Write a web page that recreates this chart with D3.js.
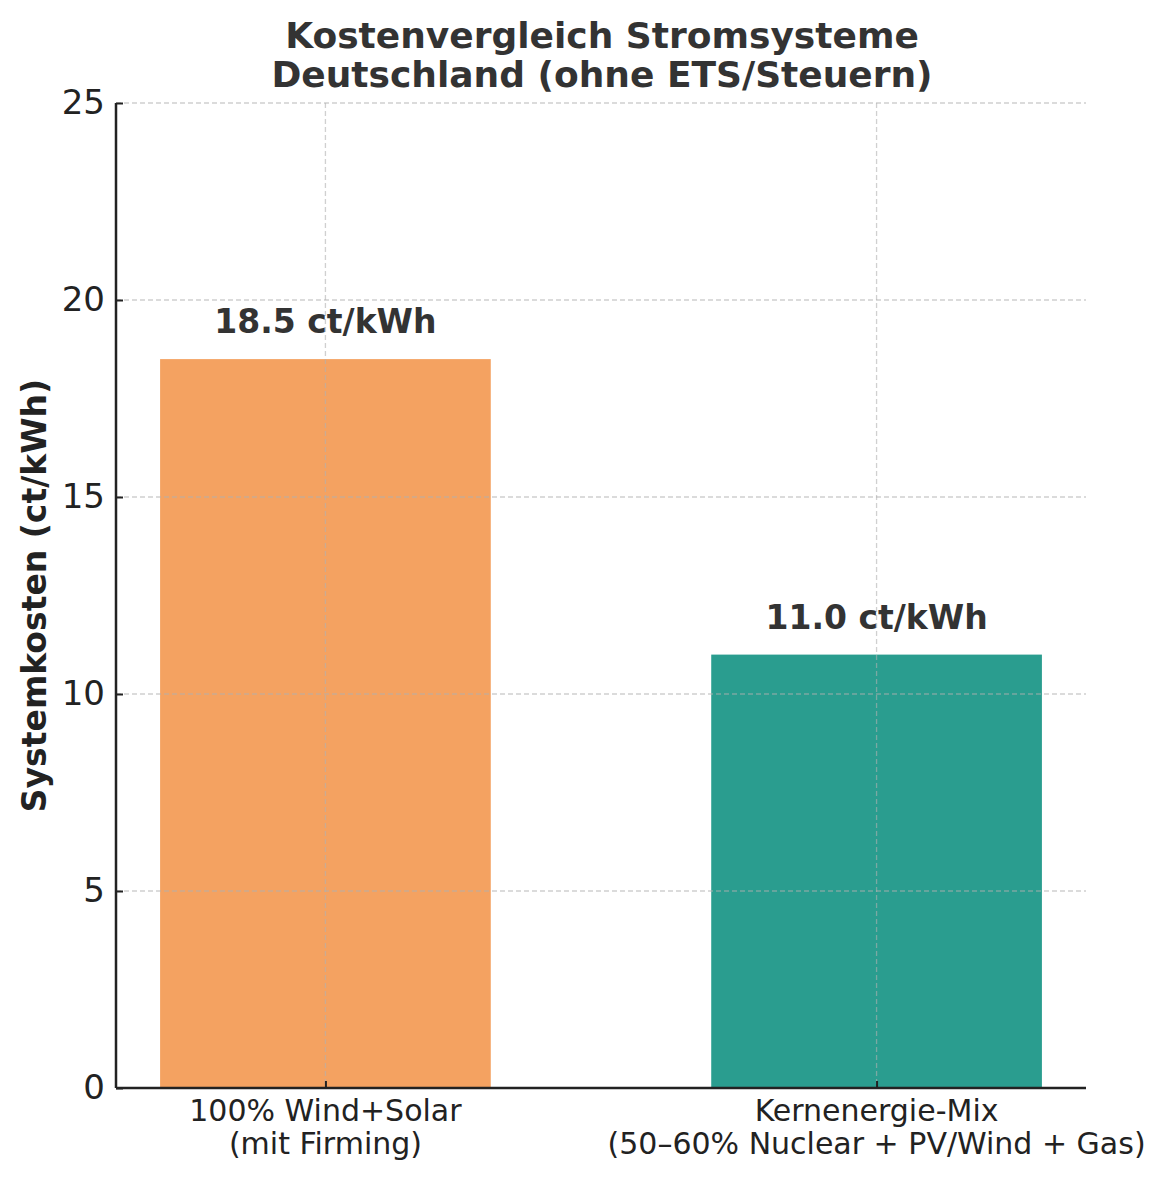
<!DOCTYPE html>
<html><head><meta charset="utf-8">
<script src="https://cdn.jsdelivr.net/npm/d3@7"></script>
<style>body{margin:0;background:#fff}svg{display:block}</style>
</head><body>
<script>
const categories = [["100% Wind+Solar","(mit Firming)"],["Kernenergie-Mix","(50–60% Nuclear + PV/Wind + Gas)"]];
const values = [18.5, 11.0];
const valueLabels = ["18.5 ct/kWh","11.0 ct/kWh"];
const colors = ["#F4A261","#2A9D8F"];
const yTicks = [0,5,10,15,20,25];
const titleLines = ["Kostenvergleich Stromsysteme","Deutschland (ohne ETS/Steuern)"];
const yLabel = "Systemkosten (ct/kWh)";

const W=1171,H=1180;
const m={l:116,r:1086,t:103,b:1088};
const svg=d3.select("body").append("svg").attr("width",W).attr("height",H);
const font="DejaVu Sans";
const x=d3.scaleLinear().domain([-0.38,1.38]).range([m.l,m.r]);
const y=d3.scaleLinear().domain([0,25]).range([m.b,m.t]);
const bw=x(0.6)-x(0);

// bars
svg.selectAll("rect.bar").data(values).join("rect")
  .attr("x",(d,i)=>x(i)-bw/2).attr("y",d=>y(d))
  .attr("width",bw).attr("height",d=>y(0)-y(d)).attr("fill",(d,i)=>colors[i]);

// grid (above bars)
const g=svg.append("g");
g.selectAll("line.gy").data(yTicks.filter(t=>t>0)).join("line")
  .attr("x1",m.l).attr("x2",m.r).attr("y1",d=>y(d)).attr("y2",d=>y(d))
  .attr("stroke","#b0b0b0").attr("stroke-opacity",0.6).attr("stroke-width",1.3).attr("stroke-dasharray","5,3");
g.selectAll("line.gx").data([0,1]).join("line")
  .attr("x1",d=>x(d)).attr("x2",d=>x(d)).attr("y1",m.t).attr("y2",m.b)
  .attr("stroke","#b0b0b0").attr("stroke-opacity",0.6).attr("stroke-width",1.3).attr("stroke-dasharray","5,3");

// axes (ticks pointing inward)
const yAxis=svg.append("g").attr("transform",`translate(${m.l},0)`)
  .call(d3.axisLeft(y).tickValues(yTicks).tickSizeInner(-7).tickSizeOuter(0).tickPadding(11).tickFormat(d3.format("d")));
const xAxis=svg.append("g").attr("transform",`translate(0,${m.b})`)
  .call(d3.axisBottom(x).tickValues([0,1]).tickSizeInner(-7).tickSizeOuter(0).tickFormat(""));
[yAxis,xAxis].forEach(a=>{
  a.select(".domain").attr("stroke","#222").attr("stroke-width",2.5);
  a.selectAll(".tick line").attr("stroke","#222").attr("stroke-width",2);
});
yAxis.select(".domain").attr("d",`M0,${m.t}V${m.b}`);
xAxis.select(".domain").attr("d",`M${m.l},0H${m.r}`);
yAxis.selectAll(".tick text").attr("font-family",font).attr("font-size",34).attr("fill","#222");

// category labels
categories.forEach((lines,i)=>{
  const t=svg.append("text").attr("x",x(i)).attr("y",m.b+33)
    .attr("text-anchor","middle").attr("font-family",font).attr("font-size",30).attr("fill","#222");
  lines.forEach((l,j)=>t.append("tspan").attr("x",x(i)).attr("dy",j?33:0).text(l));
});

// value labels
svg.selectAll("text.val").data(values).join("text")
  .attr("x",(d,i)=>x(i)).attr("y",d=>y(d)-26)
  .attr("text-anchor","middle").attr("font-family",font).attr("font-weight","bold")
  .attr("font-size",33).attr("fill","#333").text((d,i)=>valueLabels[i]);

// title
const tcx=602;
const tt=svg.append("text").attr("x",tcx).attr("y",48).attr("text-anchor","middle")
  .attr("font-family",font).attr("font-weight","bold").attr("font-size",36).attr("fill","#333");
titleLines.forEach((l,j)=>tt.append("tspan").attr("x",tcx).attr("dy",j?39:0).text(l));

// y label
svg.append("text").attr("transform",`translate(46,${(m.t+m.b)/2+0}) rotate(-90)`)
  .attr("text-anchor","middle").attr("font-family",font).attr("font-weight","bold")
  .attr("font-size",33).attr("fill","#222").text(yLabel);
</script>
</body></html>
